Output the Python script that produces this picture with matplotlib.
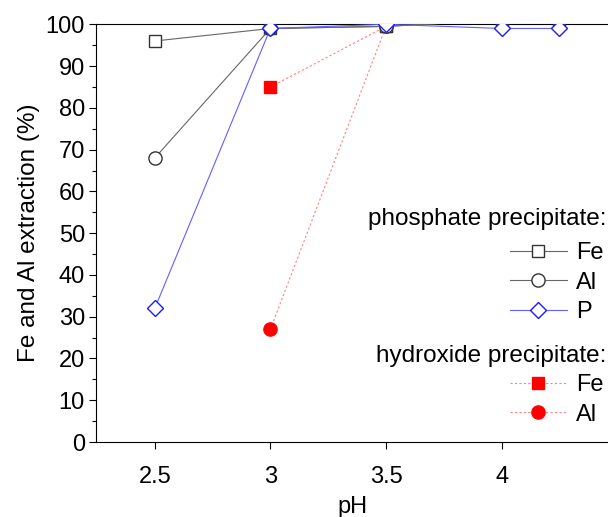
import matplotlib
matplotlib.use("Agg")
import matplotlib.pyplot as plt

plt.rcParams['font.family'] = ['Liberation Sans', 'DejaVu Sans']

# phosphate precipitate
ph_phos = [2.5, 3, 3.5, 4, 4.25]
fe_phos = [96, 99, 99.5, 101, 101]
al_phos = [68, 99, 99.5, 101, 101]
p_phos = [32, 99, 100, 99, 99]

# hydroxide precipitate
ph_hyd = [3, 3.5]
fe_hyd = [85, 99.5]
al_hyd = [27, 99.5]

fig = plt.figure(figsize=(6.08, 5.17), dpi=100)
ax = fig.add_axes([0.158, 0.145, 0.842, 0.808])

l4, = ax.plot(ph_hyd, fe_hyd, color="#ff8080", lw=0.8, ls=(0, (2, 2)), marker="s",
              ms=8.5, mfc="red", mec="red", label="Fe", zorder=1)
l5, = ax.plot(ph_hyd, al_hyd, color="#ff8080", lw=0.8, ls=(0, (2, 2)), marker="o",
              ms=9.5, mfc="red", mec="red", label="Al", zorder=1)
l1, = ax.plot(ph_phos, fe_phos, color="#666666", lw=0.8, marker="s", ms=8,
              mfc="white", mec="#333333", mew=1.0, label="Fe", zorder=3)
l2, = ax.plot(ph_phos, al_phos, color="#666666", lw=0.8, marker="o", ms=9.5,
              mfc="white", mec="#333333", mew=1.0, label="Al", zorder=3)
l3, = ax.plot(ph_phos, p_phos, color="#6060ff", lw=0.8, marker="D", ms=8.5,
              mfc="white", mec="#1a1aff", mew=1.0, label="P", zorder=3)

ax.set_xlim(2.246, 4.46)
ax.set_ylim(0, 100)
ax.set_xticks([2.5, 3, 3.5, 4])
ax.set_xticklabels(["2.5", "3", "3.5", "4"])
ax.set_yticks(range(0, 101, 10))
ax.set_yticks(range(5, 100, 10), minor=True)
ax.spines['right'].set_visible(False)
ax.tick_params(axis='both', which='major', labelsize=17, length=5, width=0.8, direction='out')
ax.tick_params(axis='y', which='minor', length=3, width=0.8)
ax.tick_params(axis='x', pad=12)
ax.tick_params(axis='y', pad=3)
ax.set_xlabel("pH", fontsize=17, labelpad=6)
ax.set_ylabel("Fe and Al extraction (%)", fontsize=17.5, labelpad=4)

# legend headers
fig.text(0.998, 1 - 219 / 517, "phosphate precipitate:", fontsize=17.5, ha='right', va='center')
fig.text(0.998, 1 - 356 / 517, "hydroxide precipitate:", fontsize=17.5, ha='right', va='center')

kw = dict(frameon=False, fontsize=17, loc='upper right', handlelength=2.4,
          handletextpad=0.4, labelspacing=0.32, borderpad=0, borderaxespad=0,
          bbox_transform=fig.transFigure)
leg1 = ax.legend(handles=[l1, l2, l3], bbox_to_anchor=(0.993, 1 - 242 / 517), **kw)
ax.add_artist(leg1)
ax.legend(handles=[l4, l5], bbox_to_anchor=(0.993, 1 - 374 / 517), **kw)

fig.savefig("out.png", dpi=100)
